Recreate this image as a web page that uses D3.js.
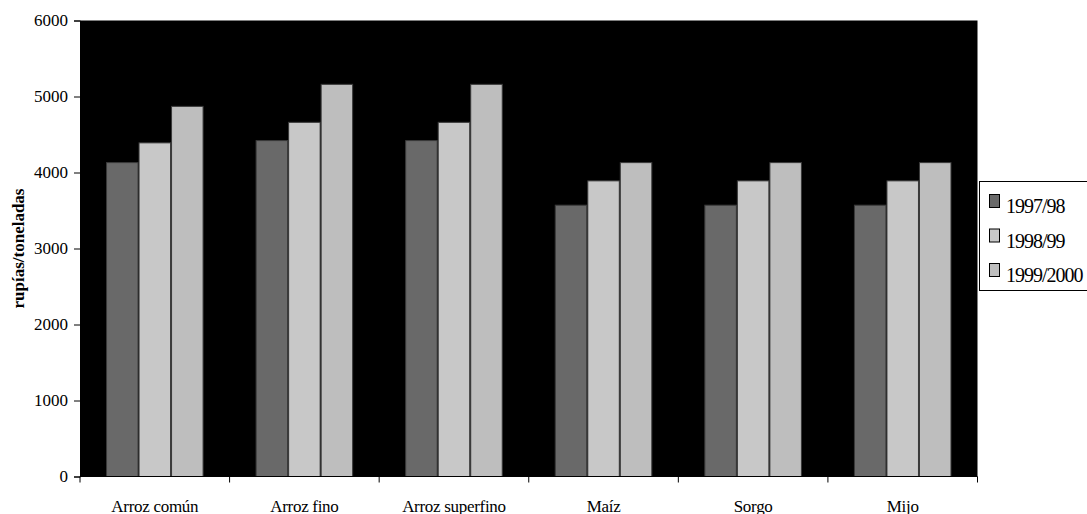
<!DOCTYPE html>
<html><head><meta charset="utf-8">
<script src="https://cdn.jsdelivr.net/npm/d3@7"></script>
<style>
html,body{margin:0;padding:0;background:#fff;}
svg{display:block;font-family:"Liberation Serif","Times New Roman",serif;}
</style></head>
<body><svg id="c" width="1087" height="514"></svg>
<script>
const categories = ["Arroz común","Arroz fino","Arroz superfino","Maíz","Sorgo","Mijo"];
const seriesNames = ["1997/98","1998/99","1999/2000"];
const s1997 = [4130,4420,4420,3570,3570,3570];
const s1998 = [4390,4660,4660,3890,3890,3890];
const s1999 = [4870,5160,5160,4130,4130,4130];
const yTicks = [0,1000,2000,3000,4000,5000,6000];
const colors = ["#696969","#c8c8c8","#bebebe"];

const values = [s1997,s1998,s1999];
const svg = d3.select("#c");
const L=80, R=977.5, T=20.5, B=476.5;

const x0 = d3.scaleBand().domain(categories).range([L,R]).paddingInner(0).paddingOuter(0);
const x1 = d3.scaleBand().domain(seriesNames).range([0,x0.bandwidth()]).paddingInner(0).paddingOuter(0.8);
const y = d3.scaleLinear().domain([0,6000]).range([B,T]);

svg.append("rect").attr("x",L).attr("y",T).attr("width",R-L).attr("height",B-T).attr("fill","#000");

const g = svg.append("g");
categories.forEach((c,i)=>{
  seriesNames.forEach((s,j)=>{
    g.append("rect")
      .attr("x",x0(c)+x1(s)+0.5)
      .attr("y",y(values[j][i]))
      .attr("width",x1.bandwidth()-1)
      .attr("height",B-y(values[j][i]))
      .attr("fill",colors[j])
      .attr("stroke","#3a3a3a").attr("stroke-width",1);
  });
});

// y axis
const ya = svg.append("g").attr("transform",`translate(${L},0)`)
  .call(d3.axisLeft(y).tickValues(yTicks).tickSize(6).tickPadding(6).tickFormat(d3.format("d")));
ya.selectAll("text").attr("font-size",17).attr("font-family","Liberation Serif").attr("fill","#000");
ya.selectAll("line,path").attr("stroke","#000");

// x axis with ticks at band boundaries
const xa = svg.append("g").attr("transform",`translate(0,${B})`);
xa.append("line").attr("x1",L).attr("x2",R).attr("y1",0).attr("y2",0).attr("stroke","#000");
const bounds = categories.map(c=>x0(c)).concat([R]);
xa.selectAll("line.t").data(bounds).enter().append("line").attr("class","t")
  .attr("x1",d=>d).attr("x2",d=>d).attr("y1",0).attr("y2",6).attr("stroke","#000");
xa.selectAll("text").data(categories).enter().append("text")
  .attr("x",d=>x0(d)+x0.bandwidth()/2).attr("y",35)
  .attr("text-anchor","middle").attr("font-size",17).attr("letter-spacing","-0.3").text(d=>d);

// y title
svg.append("text").attr("transform",`translate(24,${(T+B)/2}) rotate(-90)`)
  .attr("text-anchor","middle").attr("font-size",17).attr("font-weight","bold").text("rupías/toneladas");

// legend
const lg = svg.append("g");
lg.append("rect").attr("x",979.5).attr("y",181.5).attr("width",110).attr("height",109).attr("fill","#fff").attr("stroke","#000");
seriesNames.forEach((s,j)=>{
  const yy = 194 + j*34.5;
  lg.append("rect").attr("x",989.5).attr("y",yy+0.5).attr("width",10).attr("height",13).attr("fill",colors[j]).attr("stroke","#000");
  lg.append("text").attr("x",1006).attr("y",yy+19).attr("font-size",20).attr("letter-spacing","-1").text(s);
});
</script></body></html>
